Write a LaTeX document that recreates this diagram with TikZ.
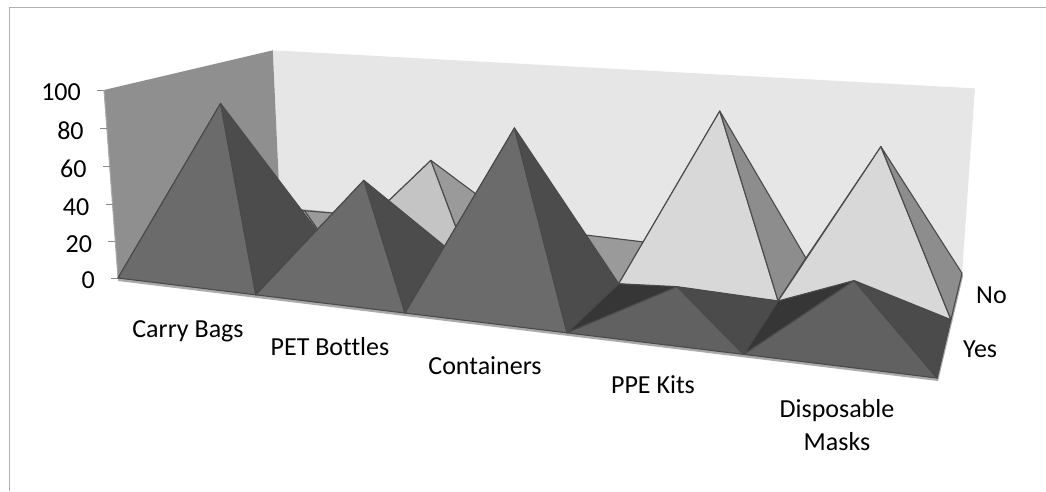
\documentclass[tikz,border=0pt]{standalone}
\usepackage{fontspec}
\setmainfont[Ligatures=NoCommon]{Carlito}
\usetikzlibrary{calc}
\definecolor{edgec}{HTML}{4A4A4A}
\definecolor{backwall}{HTML}{E6E6E6}
\definecolor{leftwall}{HTML}{8F8F8F}
\definecolor{floorc}{HTML}{A0A0A0}
\definecolor{flooredge}{HTML}{AAAAAA}
\definecolor{borderc}{HTML}{B0B0B0}
\definecolor{tickc}{HTML}{8A8A8A}
\definecolor{yesF}{HTML}{6B6B6B}
\definecolor{yesR}{HTML}{4C4C4C}
\definecolor{yesL}{HTML}{3A3A3A}
\definecolor{yesFs}{HTML}{616161}
\definecolor{yesRs}{HTML}{4B4B4B}
\definecolor{yesLs}{HTML}{363636}
\definecolor{noF}{HTML}{D8D8D8}
\definecolor{noR}{HTML}{8D8D8D}
\definecolor{noL}{HTML}{707070}
\definecolor{noFs}{HTML}{C4C4C4}
\definecolor{noRs}{HTML}{9A9A9A}
\definecolor{noLs}{HTML}{7A7A7A}
\newcommand\mkp[4]{\coordinate (#1) at ({px(#2,#3,#4)},{py(#2,#3,#4)});}
\newcommand\pyr[7]{%
  \coordinate (#1fl) at ({px(#2,#3,0)},{py(#2,#3,0)});
  \coordinate (#1fr) at ({px(#2+1,#3,0)},{py(#2+1,#3,0)});
  \coordinate (#1br) at ({px(#2+1,#3+1,0)},{py(#2+1,#3+1,0)});
  \coordinate (#1bl) at ({px(#2,#3+1,0)},{py(#2,#3+1,0)});
  \coordinate (#1ap) at ({px(#2+0.5,#3+0.5,#4)},{py(#2+0.5,#3+0.5,#4)});
  \filldraw[face,fill=#7] (#1fl) -- (#1bl) -- (#1ap) -- cycle;
  \filldraw[face,fill=#5] (#1fl) -- (#1fr) -- (#1ap) -- cycle;
  \filldraw[face,fill=#6] (#1fr) -- (#1br) -- (#1ap) -- cycle;
}
\begin{document}
\begin{tikzpicture}[x=1pt,y=-1pt,
  declare function={
    pden(\X,\Y,\Z)=1-0.03816*\X+0.10395*\Y-0.03125*\Z;
    px(\X,\Y,\Z)=(118+128.05*\X+110.1*\Y-17.25*\Z)/pden(\X,\Y,\Z);
    py(\X,\Y,\Z)=(278+5.576*\X-13.98*\Y-190.81*\Z)/pden(\X,\Y,\Z);
  },
  face/.style={draw=edgec,line width=1.1pt,line join=round},
  lbl/.style={font=\fontsize{26}{33}\selectfont,text=black,inner sep=0pt},
  tickline/.style={draw=tickc,line width=1pt},
]
\useasboundingbox (0,0) rectangle (1046,491);
\fill[white] (0,0) rectangle (1046,491);
% frame
\draw[borderc,line width=1.5pt] (9.5,491) -- (9.5,7.5) -- (1046,7.5);
% walls and floor
\mkp{w000}{0}{0}{0}
\mkp{w001}{0}{0}{1}
\mkp{w021}{0}{2}{1}
\mkp{w020}{0}{2}{0}
\mkp{w520}{5}{2}{0}
\mkp{w521}{5}{2}{1}
\mkp{w500}{5}{0}{0}
\fill[backwall] (w020) -- (w520) -- (w521) -- (w021) -- cycle;
\fill[leftwall] (w000) -- (w020) -- (w021) -- (w001) -- cycle;
\fill[flooredge] (w000) -- (w500) -- (w520) -- ($(w520)+(1,3)$) -- ($(w500)+(1,3)$) -- ($(w000)+(0,3)$) -- cycle;
\fill[floorc] (w000) -- (w500) -- (w520) -- (w020) -- cycle;
\draw[draw=flooredge,line width=1pt] (w000) -- (w001);
% axis ticks and labels
\foreach \v/\t in {0/0,1/20,2/40,3/60,4/80,5/100}{
  \mkp{t\v}{0}{0}{\v/5}
  \draw[tickline] (t\v) -- ++(-7,0);
  \node[lbl,anchor=east] (ax\v) at ($(t\v)+(-23,2.5)$) {\t};
}
% back row (No)
\pyr{nA}{0}{1}{0.11}{noFs}{noRs}{noLs}
\pyr{nB}{1}{1}{0.48}{noFs}{noRs}{noLs}
\pyr{nC}{2}{1}{0.13}{noFs}{noRs}{noLs}
\pyr{nD}{3}{1}{0.87}{noF}{noR}{noL}
\pyr{nE}{4}{1}{0.74}{noF}{noR}{noL}
% front row (Yes)
\pyr{yA}{0}{0}{0.89}{yesF}{yesR}{yesL}
\pyr{yB}{1}{0}{0.54}{yesF}{yesR}{yesL}
\pyr{yC}{2}{0}{0.87}{yesF}{yesR}{yesL}
\pyr{yD}{3}{0}{0.15}{yesFs}{yesRs}{yesLs}
\pyr{yE}{4}{0}{0.27}{yesFs}{yesRs}{yesLs}
% category labels
\node[lbl,anchor=base] (cA) at (188,337) {Carry Bags};
\node[lbl,anchor=base] (cB) at (330,355) {PET Bottles};
\node[lbl,anchor=base] (cC) at (485,374) {Containers};
\node[lbl,anchor=base] (cD) at (653,393) {PPE Kits};
\node[lbl,anchor=base] (cE1) at (837,417) {Disposable};
\node[lbl,anchor=base] (cE2) at (837,450) {Masks};
% series labels
\node[lbl,anchor=base west] (sNo) at (976,303) {No};
\node[lbl,anchor=base west] (sYes) at (963,357) {Yes};
\end{tikzpicture}
\end{document}
